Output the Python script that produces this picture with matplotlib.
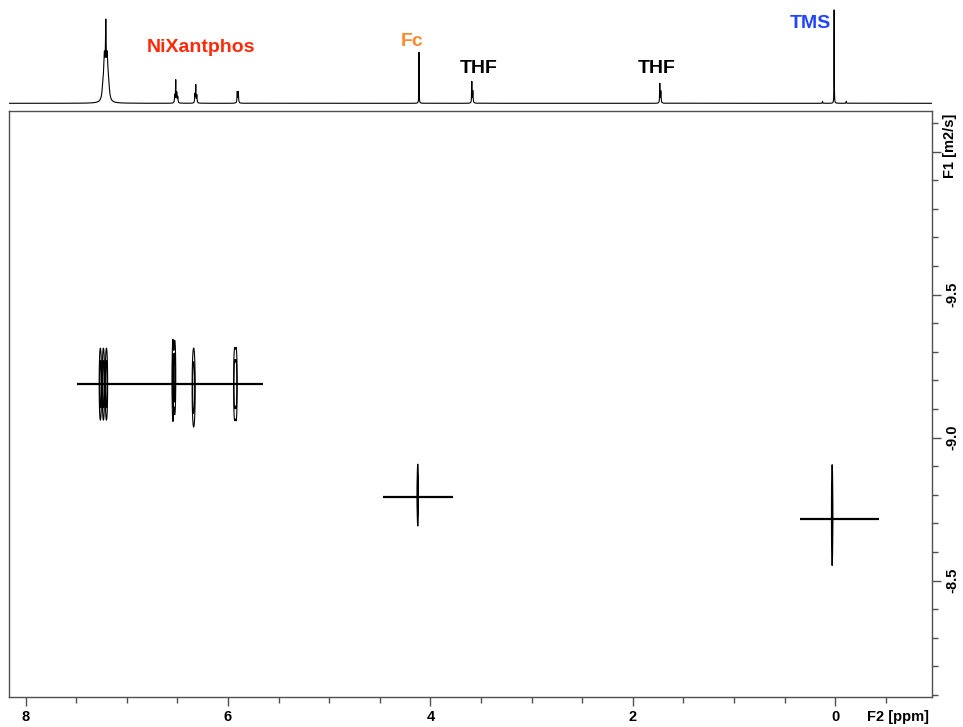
import numpy as np
import matplotlib
matplotlib.use("Agg")
import matplotlib.pyplot as plt
from matplotlib.ticker import MultipleLocator, FixedLocator

plt.rcParams['font.family'] = ['Liberation Sans', 'DejaVu Sans']

# ---------------- 1D proton spectrum (top trace) ----------------
peak_ppm    = [7.236, 7.222, 7.208, 7.194, 7.180,
               6.527, 6.517, 6.507, 6.497,
               6.327, 6.319, 6.309,
               5.909, 5.899,
               4.113,
               3.591, 3.581,
               1.733, 1.723,
               0.125, 0.010, -0.110]
peak_height = [12, 40, 62, 40, 12,
               8, 22, 10, 6,
               9, 17, 8,
               11, 11,
               51,
               21, 12,
               19, 12,
               2, 96, 2]
peak_width  = [0.010, 0.008, 0.004, 0.008, 0.010,
               0.003, 0.002, 0.003, 0.003,
               0.003, 0.002, 0.003,
               0.003, 0.003,
               0.0015,
               0.002, 0.003,
               0.002, 0.003,
               0.002, 0.0012, 0.002]

labels_text  = ['NiXantphos', 'Fc', 'THF', 'THF', 'TMS']
labels_ppm   = [6.27, 4.185, 3.52, 1.764, 0.249]
labels_y     = [55.3, 61.3, 35.3, 35.3, 80.3]
labels_color = ['#ff2a0a', '#ff8a30', '#000000', '#000000', '#1f45ff']

# ---------------- 2D DOSY cross peaks ----------------
cp_ppm  = [7.262, 7.232, 7.202, 6.545, 6.527, 6.340, 5.935, 5.920, 4.125, 0.030]
cp_logd = [-9.187, -9.187, -9.187, -9.20, -9.21, -9.175, -9.187, -9.187, -8.799, -8.729]
cp_sx   = [0.007, 0.007, 0.007, 0.005, 0.006, 0.009, 0.006, 0.006, 0.004, 0.004]
cp_sy   = [0.0757, 0.0757, 0.0757, 0.086, 0.078, 0.083, 0.0757, 0.0757, 0.065, 0.107]

# horizontal diffusion lines
line_logd = [-9.187, -8.793, -8.717]
line_x0   = [7.49, 4.465, 0.348]
line_x1   = [5.65, 3.774, -0.436]

xticks_major = [8, 6, 4, 2, 0]
yticks_major = [-10.0, -9.5, -9.0, -8.5]
ytick_labels = ['', '-9.5', '-9.0', '-8.5']

W, H = 963, 727
fig = plt.figure(figsize=(W / 100, H / 100), dpi=100)

L, R, T, B = 9.3, 932.0, 110.7, 697.0
XL, XR = 8.162, -0.957
YT, YB = -10.143, -8.093

ax = fig.add_axes([L / W, (H - B) / H, (R - L) / W, (B - T) / H])
axt = fig.add_axes([L / W, (H - 106.6) / H, (R - L) / W, 106.6 / H])

# top trace
x1d = np.arange(XR, XL, 0.0004)
spec = np.zeros_like(x1d)
for p, h, w in zip(peak_ppm, peak_height, peak_width):
    spec += h * w ** 2 / ((x1d - p) ** 2 + w ** 2)
axt.plot(x1d, spec, color='black', lw=0.8)
axt.set_xlim(XL, XR)
axt.set_ylim(-3.3, 103.3)
axt.axis('off')
for t, p, y, c in zip(labels_text, labels_ppm, labels_y, labels_color):
    axt.text(p, y, t, color=c, fontsize=14, fontweight='bold',
             ha='center', va='center')

# 2D contours
xg = np.arange(XR, XL, 0.002)
yg = np.arange(-10.2, -8.05, 0.003)
Z = np.zeros((len(yg), len(xg)))
for p, d, sx, sy in zip(cp_ppm, cp_logd, cp_sx, cp_sy):
    gx = np.exp(-0.5 * ((xg - p) / sx) ** 2)
    gy = np.exp(-0.5 * ((yg - d) / sy) ** 2)
    Z += np.outer(gy, gx)
ax.contour(xg, yg, Z, levels=[0.25, 0.55], colors='black', linewidths=0.8)
ax.hlines(line_logd, line_x0, line_x1, colors='black', linewidth=1.6)

ax.set_xlim(XL, XR)
ax.set_ylim(YB, YT)

spine_c = '#505050'
for s in ax.spines.values():
    s.set_color(spine_c)
    s.set_linewidth(1.0)

ax.xaxis.set_major_locator(FixedLocator(xticks_major))
ax.xaxis.set_minor_locator(MultipleLocator(0.5))
ax.set_xticklabels([str(v) for v in xticks_major])
ax.yaxis.tick_right()
ax.yaxis.set_major_locator(FixedLocator(yticks_major))
ax.yaxis.set_minor_locator(MultipleLocator(0.1))
ax.set_yticklabels(ytick_labels)

ax.tick_params(which='major', length=6.5, width=1.0, color=spine_c,
               labelsize=10.5, pad=3.0)
ax.tick_params(which='minor', length=4.0, width=1.0, color=spine_c)
for lab in ax.get_xticklabels() + ax.get_yticklabels():
    lab.set_fontweight('bold')
for lab in ax.get_yticklabels():
    lab.set_rotation(90)
    lab.set_va('center')

fig.text(897.5 / W, 1 - 716.7 / H, 'F2 [ppm]', fontsize=10.5, fontweight='bold',
         ha='center', va='center')
fig.text(950 / W, 1 - 146 / H, 'F1 [m2/s]', fontsize=10.5, fontweight='bold',
         ha='center', va='center', rotation=90)

fig.savefig('out.png', dpi=100)
